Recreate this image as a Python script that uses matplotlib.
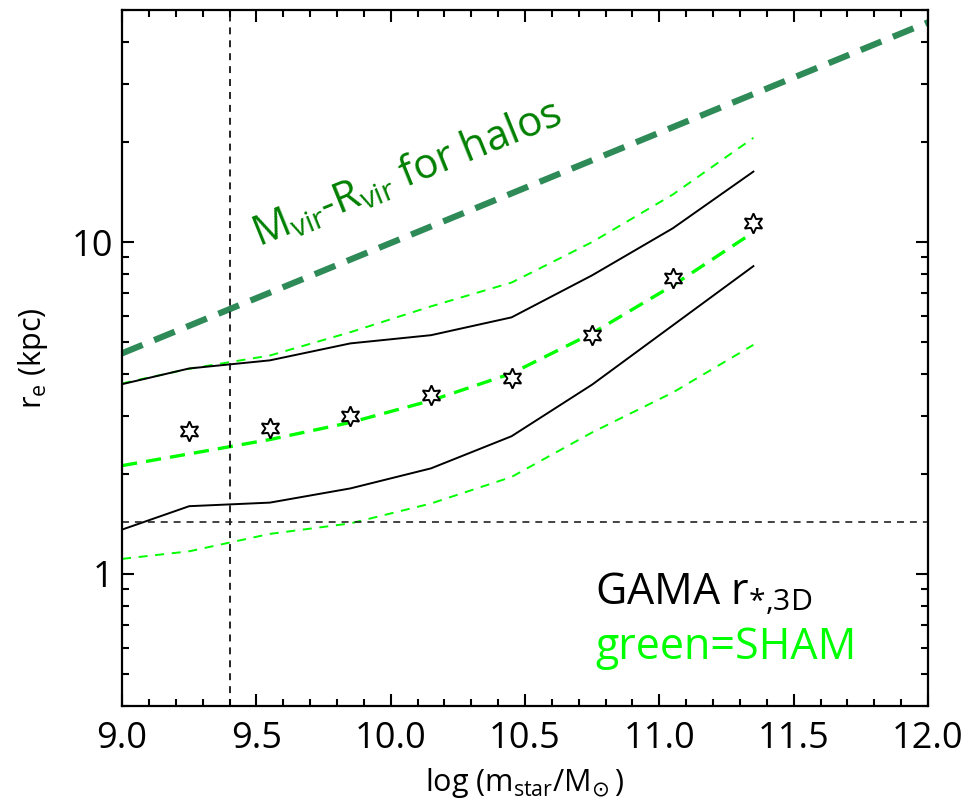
import numpy as np
import matplotlib.pyplot as plt

plt.rcParams['font.family'] = ['Open Sans', 'DejaVu Sans']
plt.rcParams['mathtext.fontset'] = 'dejavusans'
plt.rcParams['lines.scale_dashes'] = False

# data
logm = [9.0, 9.25, 9.55, 9.85, 10.15, 10.45, 10.75, 11.05, 11.35]
gama_hi = [3.73, 4.16, 4.40, 4.95, 5.24, 5.93, 7.94, 11.0, 16.3]
gama_lo = [1.36, 1.60, 1.64, 1.81, 2.08, 2.60, 3.72, 5.61, 8.46]
sham_mid = [2.12, 2.30, 2.54, 2.86, 3.33, 4.02, 5.31, 7.40, 10.7]
sham_hi = [3.75, 4.15, 4.55, 5.35, 6.40, 7.55, 10.0, 13.9, 20.6]
sham_lo = [1.11, 1.17, 1.32, 1.42, 1.63, 1.96, 2.67, 3.52, 4.90]
star_m = [9.25, 9.55, 9.85, 10.15, 10.45, 10.75, 11.05, 11.35]
star_r = [2.70, 2.75, 3.00, 3.46, 3.90, 5.24, 7.78, 11.4]
vir_m = [9.0, 12.0]
vir_r = [4.62, 45.9]
mcut = 9.4
rcut = 1.43

fig = plt.figure(figsize=(9.67, 8.09), dpi=100)
ax = fig.add_axes([0.1262, 0.1273, 0.8335, 0.8603])
ax.set_yscale('log')

ax.plot(vir_m, vir_r, color='#2e8b57', lw=4.5, dashes=(16, 9))
ax.plot(logm, sham_hi, color='#00ff00', lw=1.4, dashes=(6.5, 5.5))
ax.plot(logm, sham_lo, color='#00ff00', lw=1.4, dashes=(6.5, 5.5))
ax.plot(logm, sham_mid, color='#00ff00', lw=2.4, dashes=(11, 6.5))
ax.plot(logm, gama_hi, color='black', lw=1.4)
ax.plot(logm, gama_lo, color='black', lw=1.4)
ax.axvline(mcut, color='black', lw=1.2, dashes=(5, 4.3))
ax.axhline(rcut, color='#222222', lw=1.2, dashes=(5, 4.3))
ax.plot(star_m, star_r, ls='none', marker=(6, 1, 0), ms=14.5,
        mfc='white', mec='black', mew=1.4)

ax.set_xlim(9.0, 12.0)
ax.set_ylim(0.4, 50)
ax.set_xticks([9.0, 9.5, 10.0, 10.5, 11.0, 11.5, 12.0])
ax.set_xticks(np.arange(9.0, 12.01, 0.1), minor=True)
ax.set_yticks([1, 10], ['1', '10'])
ax.tick_params(which='both', direction='in', top=True, right=True,
               width=1.5, labelsize=26)
ax.tick_params(which='major', length=8.6)
ax.tick_params(which='minor', length=5)
ax.tick_params(axis='x', pad=11)
ax.tick_params(axis='y', pad=6)
for s in ax.spines.values():
    s.set_linewidth(1.6)

ax.set_xlabel(r'log (m$_{\mathregular{star}}$/M$_{\!\odot}$)', fontsize=22, labelpad=6)
ax.set_ylabel(r'r$_{\mathregular{e}}$ (kpc)', fontsize=22, labelpad=16)

ax.text(9.507, 9.68, r'M$_{\mathregular{vir}}$-R$_{\mathregular{vir}}$ for halos',
        color='#008000', fontsize=30, rotation=22, rotation_mode='anchor',
        ha='left', va='baseline')
ax.text(10.76, 0.812, r'GAMA r$_{\mathregular{*{,}3D}}$', color='black',
        fontsize=31, ha='left', va='baseline')
ax.text(10.76, 0.554, 'green=SHAM', color='#00ff00', fontsize=31,
        ha='left', va='baseline')

fig.savefig('out.png', dpi=100)
